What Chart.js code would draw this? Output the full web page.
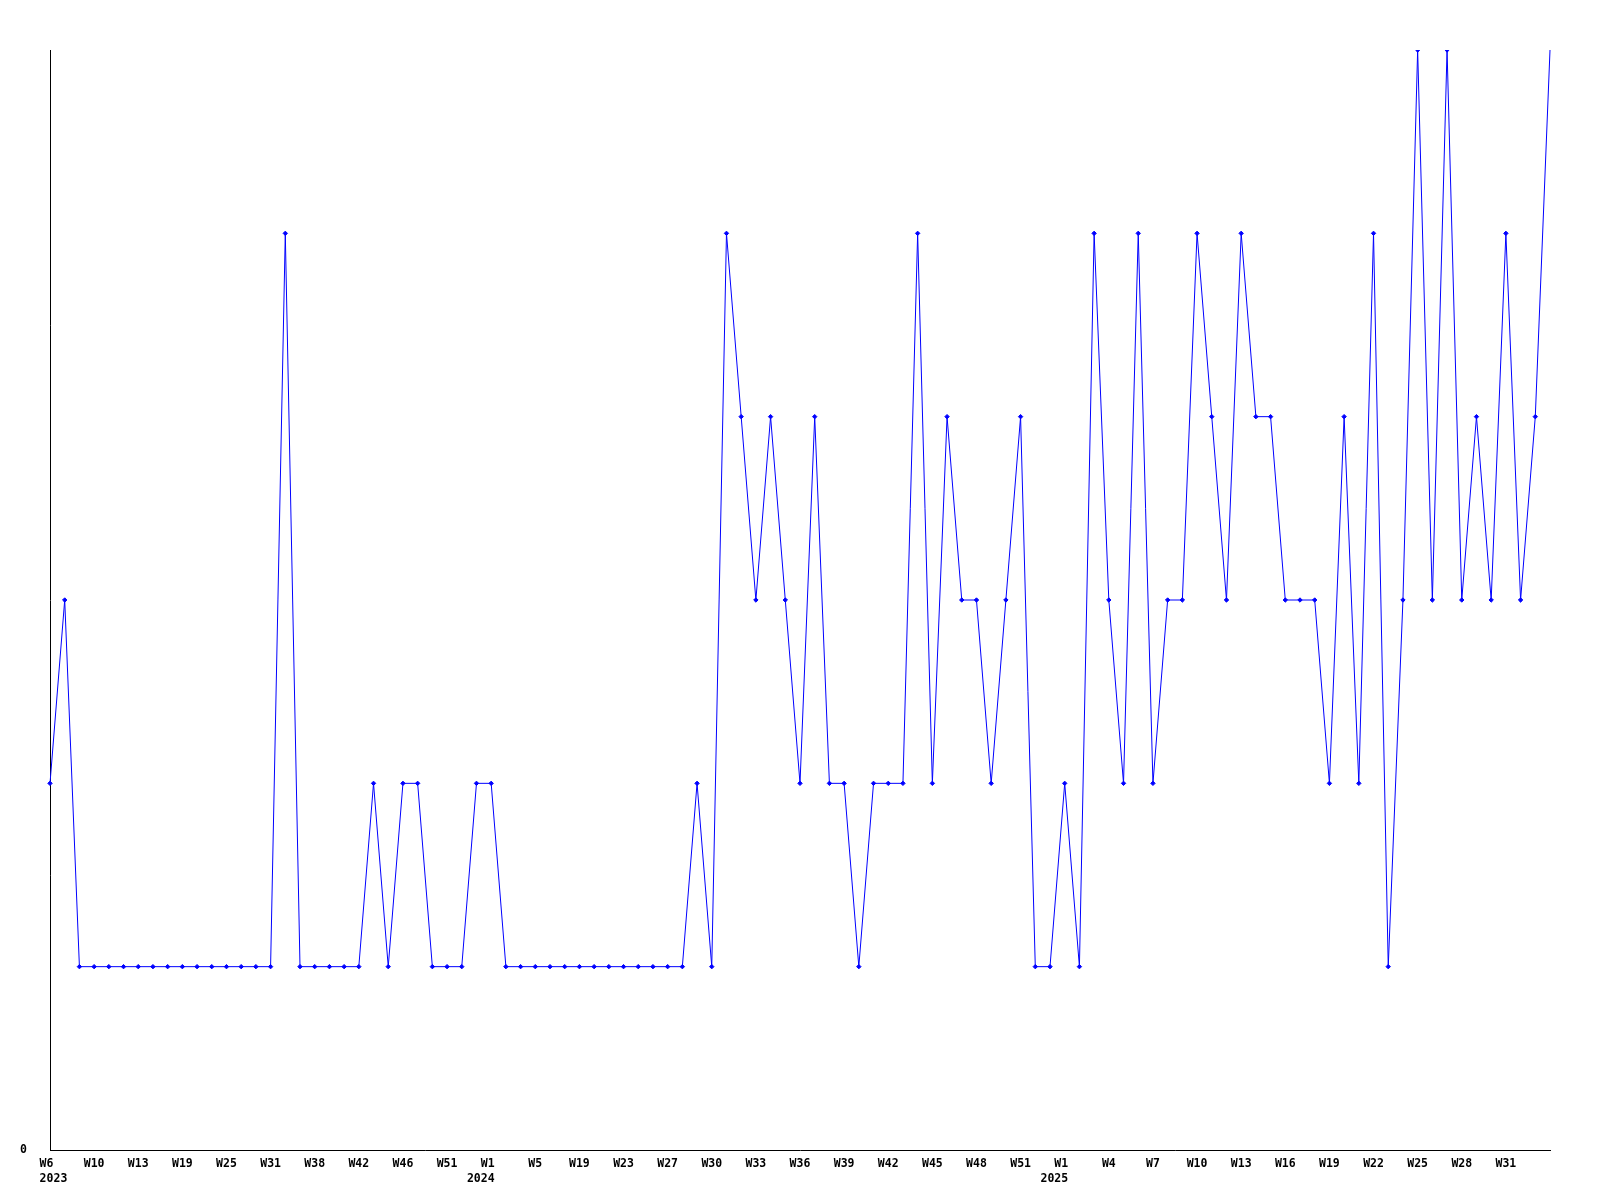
<!DOCTYPE html>
<html>
<head>
<meta charset="utf-8">
<script src="https://cdn.jsdelivr.net/npm/chart.js@4/dist/chart.umd.min.js"></script>
<style>
  html, body { margin: 0; padding: 0; background: #fff; }
  #wrap { width: 1600px; height: 1200px; }
</style>
</head>
<body>
<div id="wrap"><canvas id="chart" width="1600" height="1200"></canvas></div>
<script>
// week labels (only every third one is shown on the axis)
const weeks = [
  "W6","W7","W8","W10","W11","W12","W13","W15","W17","W19",
  "W21","W23","W25","W27","W29","W31","W33","W35","W38","W39",
  "W41","W42","W43","W45","W46","W47","W49","W51","W52","W52",
  "W1","W2","W3","W5","W8","W14","W19","W20","W22","W23",
  "W24","W26","W27","W28","W29","W30","W31","W32","W33","W34",
  "W35","W36","W37","W38","W39","W40","W41","W42","W43","W44",
  "W45","W46","W47","W48","W49","W50","W51","W52","W53","W1",
  "W2","W3","W4","W5","W6","W7","W8","W9","W10","W11",
  "W12","W13","W14","W15","W16","W17","W18","W19","W20","W21",
  "W22","W23","W24","W25","W26","W27","W28","W29","W30","W31",
  "W32","W33","W34"
];
// year shown under the first tick of each year
const yearStarts = { 0: "2023", 30: "2024", 69: "2025" };

const counts = [
  2,3,1,1,1,1,1,1,1,1,
  1,1,1,1,1,1,5,1,1,1,
  1,1,2,1,2,2,1,1,1,2,
  2,1,1,1,1,1,1,1,1,1,
  1,1,1,1,2,1,5,4,3,4,
  3,2,4,2,2,1,2,2,2,5,
  2,4,3,3,2,3,4,1,1,2,
  1,5,3,2,5,2,3,3,5,4,
  3,5,4,4,3,3,3,2,4,2,
  5,1,3,6,3,6,3,4,3,5,
  3,4,6
];

const axisFont = { family: "'DejaVu Sans Mono', monospace", size: 11.5, weight: 'bold' };
const lastIdx = counts.length - 1;

new Chart(document.getElementById('chart'), {
  type: 'line',
  data: {
    labels: weeks,
    datasets: [{
      data: counts,
      borderColor: '#0000ff',
      backgroundColor: '#0000ff',
      borderWidth: 1,
      tension: 0,
      pointStyle: 'rectRot',
      pointRadius: (ctx) => ctx.dataIndex === lastIdx ? 0 : 2.2,
      pointBorderWidth: 1,
      pointBorderColor: '#0000ff',
      pointBackgroundColor: '#0000ff'
    }]
  },
  options: {
    responsive: false,
    animation: false,
    layout: { padding: { top: 50, right: 50, left: 0, bottom: 0 } },
    plugins: {
      legend: { display: false },
      tooltip: { enabled: false }
    },
    scales: {
      x: {
        type: 'category',
        offset: false,
        grid: { display: false, drawTicks: false, tickLength: 0 },
        border: { display: true, color: '#000', width: 1 },
        afterFit: (scale) => { scale.height = 50; },
        ticks: {
          autoSkip: false,
          maxRotation: 0,
          minRotation: 0,
          padding: 7,
          color: '#000',
          font: Object.assign({ lineHeight: 1.3 }, axisFont),
          callback: function (value, index) {
            // every third week, but not the last point at the right edge
            if (index % 3 !== 0 || index === lastIdx) return null;
            const w = this.getLabelForValue(value);
            const y = yearStarts[index];
            if (!y) return w;
            // first year lines up on the left, later ones on the right of the week
            return index === 0 ? [w + ' ', ' ' + y] : [w + ' ', y + '   '];
          }
        }
      },
      y: {
        min: 0,
        max: 6,
        grid: { display: false, drawTicks: false, tickLength: 0 },
        border: { display: true, color: '#000', width: 1 },
        afterFit: (scale) => { scale.width = 50; },
        ticks: {
          stepSize: 1,
          padding: 23,
          color: '#000',
          font: axisFont,
          callback: (v) => v === 0 ? '0' : ''
        }
      }
    }
  }
});
</script>
</body>
</html>
